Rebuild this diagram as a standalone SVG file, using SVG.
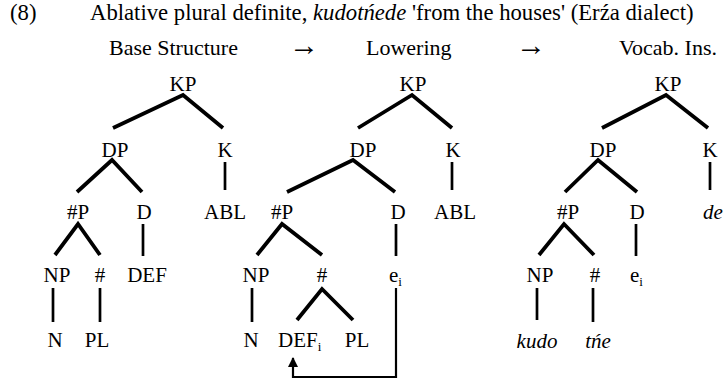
<svg xmlns="http://www.w3.org/2000/svg" width="724" height="381" viewBox="0 0 724 381" font-family="Liberation Serif, serif">
<style>
text{font-family:"Liberation Serif","Times New Roman",serif;font-size:21px;fill:#000}
.hd{font-size:22px}
.tt{font-size:22.7px}
.n{text-anchor:middle}
.it{font-style:italic}
.sub{font-size:13px}
.ar{font-size:30px}
.br{fill:none;stroke:#000;stroke-width:3.8;stroke-linejoin:miter;stroke-linecap:butt}
.v{fill:none;stroke:#000;stroke-width:2.7}
.mv{fill:none;stroke:#000;stroke-width:2.2}
</style>
<defs>
<marker id="ah" viewBox="0 0 10 10" refX="9" refY="5" markerWidth="11" markerHeight="10" markerUnits="userSpaceOnUse" orient="auto">
<path d="M0,0 L10,5 L0,10 Z" fill="#000"/>
</marker>
</defs>
<g id="title">
<text class="tt" x="10" y="20">(8)</text>
<text class="tt" x="90" y="20">Ablative plural definite, <tspan class="it">kudotńede</tspan> 'from the houses' (Erźa dialect)</text>
</g>
<g id="headers">
<text class="hd" x="109" y="55">Base Structure</text>
<text class="ar" x="289" y="55">→</text>
<text class="hd" x="366" y="55">Lowering</text>
<text class="ar" x="516" y="55">→</text>
<text class="hd" x="619" y="55">Vocab. Ins.</text>
</g>
<g id="connectors">
<polyline class="br" points="113,128 183,95 223,128"/>
<polyline class="br" points="77,192 112,160 142,192"/>
<line class="v" x1="225" y1="162" x2="225" y2="190"/>
<polyline class="br" points="55,255 78,224 100,255"/>
<line class="v" x1="143" y1="224" x2="143" y2="256"/>
<line class="v" x1="53" y1="288" x2="53" y2="322"/>
<line class="v" x1="100" y1="288" x2="100" y2="322"/>
<polyline class="br" points="358,128 412,95 452,128"/>
<polyline class="br" points="287,192 353,160 395,192"/>
<line class="v" x1="452" y1="162" x2="452" y2="190"/>
<polyline class="br" points="257,255 282,224 322,255"/>
<line class="v" x1="396" y1="224" x2="396" y2="256"/>
<line class="v" x1="252" y1="288" x2="252" y2="322"/>
<polyline class="br" points="297,320 322,289 353,320"/>
<polyline class="mv" points="396,288 396,377 293,377 293,358" marker-end="url(#ah)"/>
<polyline class="br" points="602,128 666,95 708,128"/>
<polyline class="br" points="565,192 598,160 637,192"/>
<line class="v" x1="710" y1="162" x2="710" y2="190"/>
<polyline class="br" points="539,255 564,224 594,255"/>
<line class="v" x1="636" y1="224" x2="636" y2="256"/>
<line class="v" x1="537" y1="288" x2="537" y2="320"/>
<line class="v" x1="593" y1="288" x2="593" y2="322"/>
</g>
<g id="tree1">
<g id="t1-KP"><text class="n" x="183" y="91">KP</text></g>
<g id="t1-DP"><text class="n" x="115" y="157">DP</text></g>
<g id="t1-K"><text class="n" x="225" y="157">K</text></g>
<g id="t1-NumP"><text class="n" x="78" y="219">#P</text></g>
<g id="t1-D"><text class="n" x="144" y="219">D</text></g>
<g id="t1-ABL"><text class="n" x="225" y="219">ABL</text></g>
<g id="t1-NP"><text class="n" x="57" y="282">NP</text></g>
<g id="t1-Num"><text class="n" x="100" y="282">#</text></g>
<g id="t1-DEF"><text class="n" x="147" y="282">DEF</text></g>
<g id="t1-N"><text class="n" x="55" y="347">N</text></g>
<g id="t1-PL"><text class="n" x="97" y="347">PL</text></g>
</g>
<g id="tree2">
<g id="t2-KP"><text class="n" x="413" y="91">KP</text></g>
<g id="t2-DP"><text class="n" x="363" y="157">DP</text></g>
<g id="t2-K"><text class="n" x="453" y="157">K</text></g>
<g id="t2-NumP"><text class="n" x="282" y="219">#P</text></g>
<g id="t2-D"><text class="n" x="398" y="219">D</text></g>
<g id="t2-ABL"><text class="n" x="455" y="219">ABL</text></g>
<g id="t2-NP"><text class="n" x="256" y="282">NP</text></g>
<g id="t2-Num"><text class="n" x="322" y="282">#</text></g>
<g id="t2-e"><text x="389" y="282">e<tspan class="sub" dy="4">i</tspan></text></g>
<g id="t2-N"><text class="n" x="251" y="347">N</text></g>
<g id="t2-DEF"><text x="278" y="347">DEF<tspan class="sub" dy="4">i</tspan></text></g>
<g id="t2-PL"><text class="n" x="357" y="347">PL</text></g>
</g>
<g id="tree3">
<g id="t3-KP"><text class="n" x="668" y="91">KP</text></g>
<g id="t3-DP"><text class="n" x="603" y="157">DP</text></g>
<g id="t3-K"><text class="n" x="710" y="157">K</text></g>
<g id="t3-NumP"><text class="n" x="568" y="219">#P</text></g>
<g id="t3-D"><text class="n" x="637" y="219">D</text></g>
<g id="t3-de"><text class="it" x="703" y="219">de</text></g>
<g id="t3-NP"><text class="n" x="540" y="282">NP</text></g>
<g id="t3-Num"><text class="n" x="595" y="282">#</text></g>
<g id="t3-e"><text x="630" y="282">e<tspan class="sub" dy="4">i</tspan></text></g>
<g id="t3-kudo"><text class="n it" x="537" y="348">kudo</text></g>
<g id="t3-tne"><text class="n it" x="598" y="348">tńe</text></g>
</g>
</svg>
